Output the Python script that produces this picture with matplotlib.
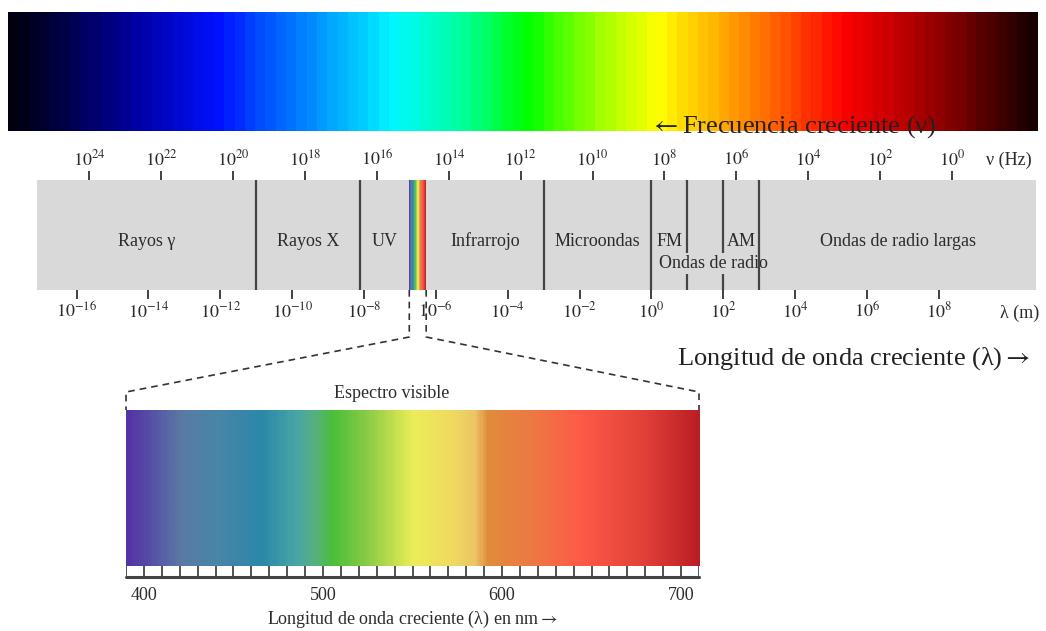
import numpy as np
import matplotlib
matplotlib.use('Agg')
import matplotlib.pyplot as plt
from matplotlib.colors import LinearSegmentedColormap
from matplotlib.lines import Line2D

plt.rcParams['font.family'] = ['Liberation Serif', 'STIXGeneral', 'DejaVu Serif']
plt.rcParams['mathtext.fontset'] = 'stix'
txt_color = '#2b2b2b'

# --- datos ---
freq_exp = [24, 22, 20, 18, 16, 14, 12, 10, 8, 6, 4, 2, 0]        # log10(nu / Hz)
wave_exp = [-16, -14, -12, -10, -8, -6, -4, -2, 0, 2, 4, 6, 8]     # log10(lambda / m)
freq_offset = 8.36                                                 # log10(nu) = offset - log10(lambda), como en el dibujo
band_min, band_max = -17.1, 10.7
limites = [-11, -8.1, -3, 0, 1, 2, 3]                              # lineas divisorias (log10 lambda)
visible_log = [-6.74, -6.27]
regiones = ['Rayos γ', 'Rayos X', 'UV', 'Infrarrojo', 'Microondas', 'FM', 'AM', 'Ondas de radio largas']
regiones_izq = [band_min, -11, -8.1, -6.27, -3, 0, 2, 3]
regiones_der = [-11, -8.1, -6.74, -3, 0, 1, 3, band_max]
radio_centro = 1.73

nm_min, nm_max, nm_step = 390, 710, 10
nm_labels = [400, 500, 600, 700]

# colores de los degradados
top_pos = [0, .05, .118, .199, .245, .313, .374, .439, .504, .575, .633, .704, .815, .898, 1]
top_col = ['#000010', '#00004a', '#0000a0', '#0010ff', '#0050ff', '#00a8ff', '#00f8ff', '#00ffa0',
           '#00ff00', '#a0ff00', '#ffff00', '#ffa000', '#ff0000', '#a00000', '#180000']
vis_nm = [390, 400, 420, 440, 465, 485, 495, 505, 525, 550, 570, 585, 592, 615, 645, 680, 710]
vis_col = ['#5533a5', '#5548a5', '#5a7aa5', '#4a85a8', '#2a88aa', '#48a6a6', '#58b080', '#4abf3a',
           '#8ccc45', '#ecee58', '#f0dc60', '#edc565', '#e08c3c', '#ec7a42', '#ff5a48', '#e04038', '#bb1e24']

top_cmap = LinearSegmentedColormap.from_list('top', list(zip(top_pos, top_col)))
vis_cmap = LinearSegmentedColormap.from_list(
    'vis', [((n - vis_nm[0]) / (vis_nm[-1] - vis_nm[0]), c) for n, c in zip(vis_nm, vis_col)])

W, H = 1046, 631
fig = plt.figure(figsize=(W / 100, H / 100), dpi=100)


def caja(x0, y0, x1, y1):
    return [x0 / W, 1 - y1 / H, (x1 - x0) / W, (y1 - y0) / H]


# degradado superior
ax_top = fig.add_axes(caja(8, 12, 1038, 131))
ax_top.imshow(np.linspace(0, 1, 100)[None, :], cmap=top_cmap, aspect='auto',
              interpolation='nearest', extent=(0, 1, 0, 1))
ax_top.axis('off')
fig.text(650 / W, 1 - 133 / H, r'$\leftarrow$Frecuencia creciente (ν)', fontsize=19, color='#222222',
         ha='left', va='baseline')

# banda del espectro
ax = fig.add_axes(caja(37, 180, 1036, 290))
ax.set_facecolor('#d9d9d9')
for s in ax.spines.values():
    s.set_visible(False)
ax.imshow(np.linspace(0, 1, 60)[None, :], cmap=vis_cmap, aspect='auto',
          extent=(visible_log[0], visible_log[1], 0, 1), zorder=2)
for lim in limites:
    ax.axvline(lim, color='#444444', lw=1.6, zorder=4 if lim not in (1, 2) else 2)
ax.set_xlim(band_min, band_max)
ax.set_ylim(0, 1)
ax.set_yticks([])
ax.set_xticks(wave_exp, ['$10^{%d}$' % e for e in wave_exp])
ax.tick_params(axis='x', direction='out', length=6.5, width=1.3, color='#333333',
               labelsize=13, labelcolor=txt_color, pad=2)

sec = ax.secondary_xaxis('top', functions=(lambda x: freq_offset - x, lambda x: freq_offset - x))
sec.set_xticks(freq_exp, ['$10^{%d}$' % e for e in freq_exp])
sec.tick_params(direction='out', length=6.5, width=1.3, color='#333333',
                labelsize=13, labelcolor=txt_color, pad=1)
sec.spines['top'].set_visible(False)

for nombre, l, r in zip(regiones, regiones_izq, regiones_der):
    ax.text((l + r) / 2, 0.4, nombre, ha='center', va='baseline', fontsize=13, color=txt_color, zorder=5)
ax.text(radio_centro, 0.2, 'Ondas de radio', ha='center', va='baseline', fontsize=13, color=txt_color,
        zorder=3, bbox=dict(facecolor='#d9d9d9', edgecolor='none', pad=1.5))

fig.text(1009 / W, 1 - 160 / H, 'ν (Hz)', fontsize=13, color=txt_color, ha='center', va='center')
fig.text(1020 / W, 1 - 313 / H, 'λ (m)', fontsize=13, color=txt_color, ha='center', va='center')
fig.text(1030 / W, 1 - 365 / H, r'Longitud de onda creciente (λ)$\rightarrow$', fontsize=19,
         color='#222222', ha='right', va='baseline')

# espectro visible
ax_vis = fig.add_axes(caja(126, 410, 699, 566))
ax_vis.imshow(np.linspace(nm_min, nm_max, 320)[None, :], cmap=vis_cmap, aspect='auto',
              extent=(nm_min, nm_max, 0, 1), vmin=nm_min, vmax=nm_max)
ax_vis.set_xlim(nm_min, nm_max)
ax_vis.axis('off')
ax_vis.set_title('Espectro visible', fontsize=13, color=txt_color, pad=9, x=0.464)

ax_sc = fig.add_axes(caja(126, 566, 699, 577))
ax_sc.set_xlim(nm_min, nm_max)
ax_sc.set_ylim(0, 1)
ax_sc.vlines(np.arange(nm_min, nm_max + 1, nm_step), 0, 1, color='#444444', lw=1.3)
for k in ['top', 'left', 'right']:
    ax_sc.spines[k].set_visible(False)
ax_sc.spines['bottom'].set_linewidth(2.2)
ax_sc.spines['bottom'].set_color('#444444')
ax_sc.spines['bottom'].set_capstyle('round')
ax_sc.set_yticks([])
ax_sc.set_xticks(nm_labels)
ax_sc.tick_params(axis='x', length=0, pad=7, labelsize=13, labelcolor=txt_color)
ax_sc.set_xlabel(r'Longitud de onda creciente (λ) en nm$\rightarrow$', fontsize=13, color=txt_color,
                 labelpad=4)

# lineas discontinuas de la ampliacion
a2f = ax.transData + fig.transFigure.inverted()
v2f = ax_vis.transAxes + fig.transFigure.inverted()
y_codo1 = 1 - 337 / H
y_codo2 = 1 - 392 / H
for xv, xs in zip(visible_log, [0, 1]):
    p0 = a2f.transform((xv, 0))
    p3 = v2f.transform((xs, 1))
    fig.add_artist(Line2D([p0[0], p0[0], p3[0], p3[0]], [p0[1], y_codo1, y_codo2, p3[1]],
                          transform=fig.transFigure, ls=(0, (4, 3)), color='#333333', lw=1.2))

fig.savefig('out.png', dpi=100)
